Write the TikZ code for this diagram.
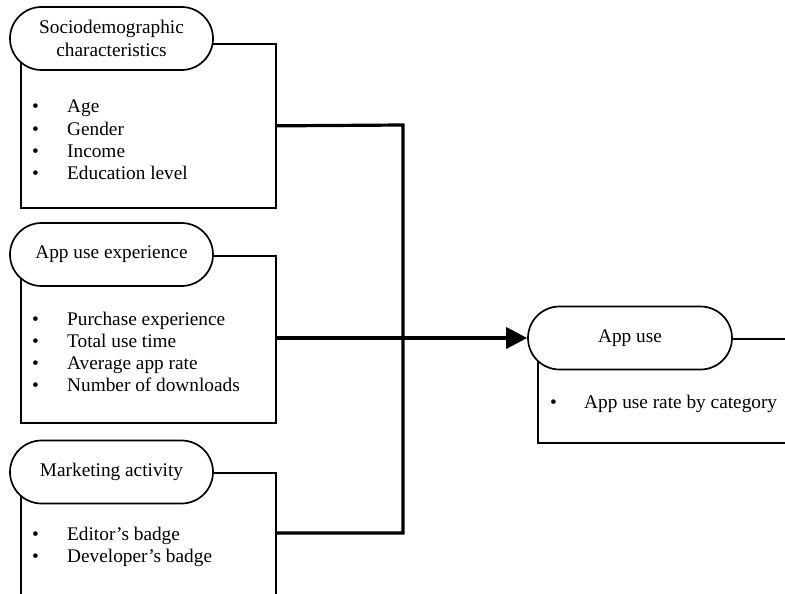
\documentclass[tikz,border=0pt]{standalone}
\usepackage{fontspec}
\setmainfont{Liberation Serif}
\usetikzlibrary{arrows.meta,shapes.misc}
\begin{document}
\begin{tikzpicture}[x=1pt,y=-1pt,
  txt/.style={font=\fontsize{19.3}{22.5}\selectfont},
  boxrect/.style={draw, line width=1.7pt, rectangle, inner sep=0pt, anchor=north west},
  oval/.style={draw, line width=1.7pt, fill=white, rounded rectangle, minimum width=203pt, minimum height=63pt, inner sep=0pt, align=center, txt},
  item/.style={txt, anchor=base west, inner sep=0pt},
  conn/.style={line width=3.2pt},
]
\useasboundingbox (0,0) rectangle (785,594);
\clip (0,0) rectangle (785,594);

% rectangles
\node[boxrect, minimum width=255pt, minimum height=164pt] (box1) at (20,43) {};
\node[boxrect, minimum width=255pt, minimum height=167pt] (box2) at (20,255) {};
\node[boxrect, minimum width=255pt, minimum height=160pt] (box3) at (20,472) {};
\node[boxrect, minimum width=270pt, minimum height=104pt] (box4) at (537,338) {};

% ovals
\node[oval] (o1) at (111.5,38.5) {Sociodemographic\\characteristics};
\node[oval] (o2) at (111.5,254.5) {App use experience};
\node[oval] (o3) at (111.5,472) {Marketing activity};
\node[oval, minimum width=204pt] (o4) at (630,338) {App use};

% items
\foreach \t [count=\i] in {Age,Gender,Income,Education level}{
  \node[item] (a\i) at (32,{113+22.2*(\i-1)}) {\makebox[35pt][l]{•}\t};
}
\foreach \t [count=\i] in {Purchase experience,Total use time,Average app rate,Number of downloads}{
  \node[item] (b\i) at (32,{325+22.2*(\i-1)}) {\makebox[35pt][l]{•}\t};
}
\foreach \t [count=\i] in {Editor’s badge,Developer’s badge}{
  \node[item] (c\i) at (32,{540+22.2*(\i-1)}) {\makebox[35pt][l]{•}\t};
}
\node[item] (d1) at (550,408) {\makebox[34pt][l]{•}App use rate by category};

% connectors
\coordinate (jt) at (403,125);
\coordinate (jb) at (403,533);
\draw[conn, line join=miter] (box1.east) -- (jt) -- (jb) -- (box3.east |- jb);
\draw[line width=3.8pt, -{Triangle[length=21pt,width=21pt]}] (box2.east |- o4.west) -- (o4.west);
\end{tikzpicture}
\end{document}
